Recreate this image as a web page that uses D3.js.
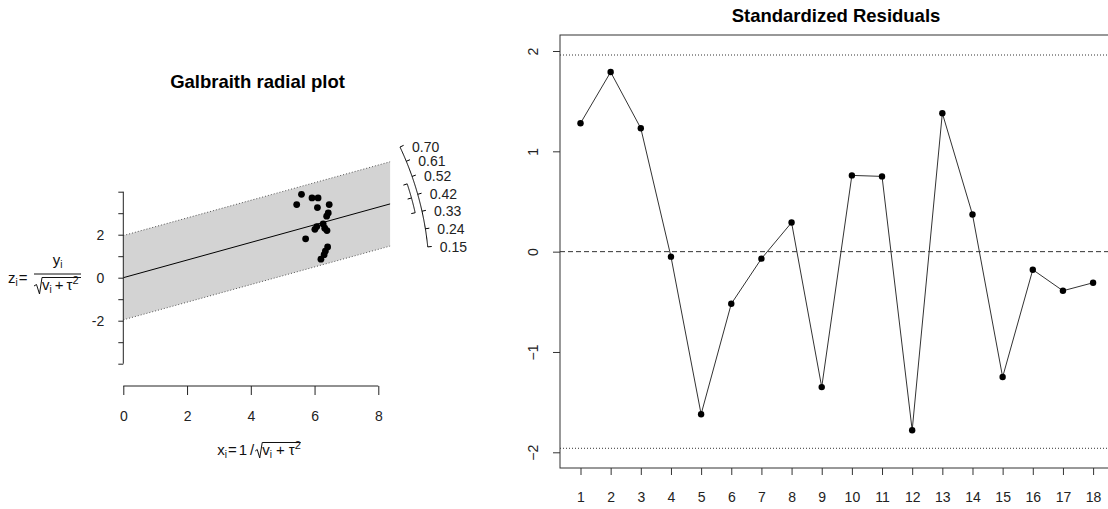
<!DOCTYPE html>
<meta charset="utf-8">
<script src="https://d3js.org/d3.v7.min.js"></script>
<style>
  body { margin: 0; background: #fff; }
  svg { font-family: "Liberation Sans", Arial, sans-serif; display: block; }
</style>
<div id="chart"></div>
<script>
// ---- data: Galbraith radial plot ----
// x_i = 1/sqrt(v_i + tau^2), z_i = y_i/sqrt(v_i + tau^2)
var radialX = [5.59, 5.92, 6.11, 5.44, 6.09, 6.46, 6.43, 6.38, 6.01, 6.07, 6.27, 6.32, 6.39, 5.72, 6.41, 6.34, 6.30, 6.20];
var radialZ = [3.88, 3.71, 3.71, 3.40, 3.26, 3.40, 3.01, 2.86, 2.25, 2.38, 2.50, 2.30, 2.19, 1.81, 1.43, 1.24, 1.07, 0.86];
var estimate = 0.41, ciLower = 0.33, ciUpper = 0.49;
var arcTicks = [0.15, 0.24, 0.33, 0.42, 0.52, 0.61, 0.70];
var zTicks = [-4, -3, -2, -1, 0, 1, 2, 3, 4];
var zLabels = [-2, 0, 2];
var xTicks = [0, 2, 4, 6, 8];
var xBandMax = 8.37;

// ---- data: standardized residuals ----
var studies = [1, 2, 3, 4, 5, 6, 7, 8, 9, 10, 11, 12, 13, 14, 15, 16, 17, 18];
var residuals = [1.28, 1.79, 1.23, -0.05, -1.62, -0.52, -0.07, 0.29, -1.35, 0.76, 0.75, -1.78, 1.38, 0.37, -1.25, -0.18, -0.39, -0.31];
var resTicks = [-2, -1, 0, 1, 2];
var critVal = 1.96;

var W = 1108, H = 509;
var svg = d3.select("#chart").append("svg").attr("width", W).attr("height", H);

// lay out a run of text pieces left to right, returns end x
function run(g, x, y, pieces) {
  pieces.forEach(function(p) {
    x += p.pre || 0;
    var t = g.append("text").attr("x", x).attr("y", y + (p.dy || 0))
      .attr("font-size", p.size || 15).attr("fill", "#111").text(p.t);
    x += t.node().getComputedTextLength();
    x += p.post || 0;
  });
  return x;
}

// ================= left panel =================
var xL = d3.scaleLinear().domain([0, 8]).range([123.3, 378.3]);
var zL = d3.scaleLinear().domain([-4, 4]).range([363.7, 191.7]);
var left = svg.append("g");

left.append("text").attr("x", 257.5).attr("y", 88).attr("text-anchor", "middle")
  .attr("font-size", 18.5).attr("font-weight", "bold").text("Galbraith radial plot");

// confidence band
var band = [[0, critVal], [xBandMax, estimate * xBandMax + critVal],
            [xBandMax, estimate * xBandMax - critVal], [0, -critVal]];
left.append("path")
  .attr("d", d3.line().x(function(d) { return xL(d[0]); }).y(function(d) { return zL(d[1]); })(band) + "Z")
  .attr("fill", "#d3d3d3").attr("stroke", "none");
[critVal, -critVal].forEach(function(c) {
  left.append("line")
    .attr("x1", xL(0)).attr("y1", zL(c))
    .attr("x2", xL(xBandMax)).attr("y2", zL(estimate * xBandMax + c))
    .attr("stroke", "#555").attr("stroke-dasharray", "1,2");
});
left.append("line")
  .attr("x1", xL(0)).attr("y1", zL(0))
  .attr("x2", xL(xBandMax)).attr("y2", zL(estimate * xBandMax))
  .attr("stroke", "#000");

// axes
var yAx = left.append("g").attr("transform", "translate(" + xL(0) + ",0)")
  .call(d3.axisLeft(zL).tickValues(zTicks).tickSize(5)
    .tickFormat(function(d) { return zLabels.indexOf(d) >= 0 ? d : ""; }));
var xAx = left.append("g").attr("transform", "translate(0,386)")
  .call(d3.axisBottom(xL).tickValues(xTicks).tickSize(9));
[yAx, xAx].forEach(function(a) {
  a.select(".domain").attr("stroke", "#222");
  a.selectAll(".tick line").attr("stroke", "#222");
  a.selectAll("text").attr("font-size", 14).attr("fill", "#222").attr("font-family", null);
});
yAx.select(".domain").attr("d", "M-0,191.7H0V363.7H-0");
yAx.selectAll("text").attr("x", -19);
xAx.select(".domain").attr("d", "M123.3,0H378.3");
xAx.selectAll("text").attr("y", 25);

// points
left.append("g").selectAll("circle").data(radialX).join("circle")
  .attr("cx", function(d) { return xL(d); })
  .attr("cy", function(d, i) { return zL(radialZ[i]); })
  .attr("r", 3.4).attr("fill", "#000");

// radial arc scale
var ox = xL(0), oy = zL(0);
var ux = xL(1) - xL(0), uz = zL(0) - zL(1);
function arcPt(v, r) {
  var dx = ux, dy = uz * v, len = Math.sqrt(dx * dx + dy * dy);
  return [ox + r * dx / len, oy - r * dy / len];
}
var R1 = 306, R2 = 299;
var arcVals = d3.range(0, 101).map(function(i) { return arcTicks[0] + (arcTicks[arcTicks.length - 1] - arcTicks[0]) * i / 100; });
left.append("path").attr("d", d3.line()(arcVals.map(function(v) { return arcPt(v, R1); })))
  .attr("fill", "none").attr("stroke", "#000");
arcTicks.forEach(function(v) {
  var a = arcPt(v, R1), b = arcPt(v, R1 + 4);
  left.append("line").attr("x1", a[0]).attr("y1", a[1]).attr("x2", b[0]).attr("y2", b[1]).attr("stroke", "#000");
  left.append("text").attr("x", a[0] + 12).attr("y", a[1]).attr("dy", "0.35em")
    .attr("font-size", 14).attr("fill", "#222").text(v.toFixed(2));
});
var ciVals = d3.range(0, 51).map(function(i) { return ciLower + (ciUpper - ciLower) * i / 50; });
left.append("path").attr("d", d3.line()(ciVals.map(function(v) { return arcPt(v, R2); })))
  .attr("fill", "none").attr("stroke", "#000");
[ciLower, estimate, ciUpper].forEach(function(v) {
  var a = arcPt(v, R2), b = arcPt(v, R2 - 4);
  left.append("line").attr("x1", a[0]).attr("y1", a[1]).attr("x2", b[0]).attr("y2", b[1]).attr("stroke", "#000");
});

// y axis label: z_i = y_i / sqrt(v_i + tau^2)
var yl = left.append("g");
run(yl, 8, 283, [{ t: "z" }, { t: "i", size: 10, dy: 3 }, { t: "=", pre: 1 }]);
yl.append("line").attr("x1", 34).attr("x2", 81).attr("y1", 274).attr("y2", 274).attr("stroke", "#111");
var num = yl.append("g");
var numEnd = run(num, 0, 265, [{ t: "y" }, { t: "i", size: 10, dy: 3 }]);
num.attr("transform", "translate(" + (57.5 - numEnd / 2) + ",0)");
var denEnd = run(yl, 42, 290, [{ t: "v" }, { t: "i", size: 10, dy: 3 }, { t: "+", size: 15, pre: 3, post: 3 }, { t: "τ" }, { t: "2", size: 11, dy: -6 }]);
yl.append("path").attr("d", "M34,286 L36.5,284.5 L39.5,294 L42,277.5 H" + Math.max(denEnd, 81))
  .attr("fill", "none").attr("stroke", "#111");

// x axis label: x_i = 1 / sqrt(v_i + tau^2)
var xl = left.append("g");
var xs = run(xl, 0, 455, [{ t: "x" }, { t: "i", size: 10, dy: 3 }, { t: "=", pre: 1, post: 2 }, { t: "1", post: 3 }, { t: "/" }]);
var xe = run(xl, xs + 8, 455, [{ t: "v" }, { t: "i", size: 10, dy: 3 }, { t: "+", pre: 4, post: 4 }, { t: "τ" }, { t: "2", size: 11, dy: -6 }]);
xl.append("path").attr("d", "M" + (xs + 1) + ",451 L" + (xs + 3) + ",449.5 L" + (xs + 5.5) + ",458 L" + (xs + 8) + ",442.5 H" + xe)
  .attr("fill", "none").attr("stroke", "#111");
xl.attr("transform", "translate(" + (259 - xe / 2) + ",0)");

// ================= right panel =================
var xR = d3.scaleLinear().domain([0.32, 18.68]).range([560, 1113.6]);
var yR = d3.scaleLinear().domain([-2, 2]).range([452.3, 51]);
var right = svg.append("g");

right.append("text").attr("x", 836).attr("y", 22).attr("text-anchor", "middle")
  .attr("font-size", 18.5).attr("font-weight", "bold").text("Standardized Residuals");

right.append("rect").attr("x", 560).attr("y", 35).attr("width", 560).attr("height", 433)
  .attr("fill", "none").attr("stroke", "#333");

[critVal, -critVal].forEach(function(c) {
  right.append("line").attr("x1", 560).attr("x2", 1108).attr("y1", yR(c)).attr("y2", yR(c))
    .attr("stroke", "#333").attr("stroke-dasharray", "1,2");
});
right.append("line").attr("x1", 560).attr("x2", 1108).attr("y1", yR(0)).attr("y2", yR(0))
  .attr("stroke", "#333").attr("stroke-dasharray", "5,3");

var ryAx = right.append("g").attr("transform", "translate(560,0)")
  .call(d3.axisLeft(yR).tickValues(resTicks).tickSize(7).tickFormat(d3.format("d")));
ryAx.selectAll("text").attr("transform", "rotate(-90)")
  .attr("x", 0).attr("y", -27).attr("dy", "0.35em")
  .attr("text-anchor", "middle");
var rxAx = right.append("g").attr("transform", "translate(0,468)")
  .call(d3.axisBottom(xR).tickValues(studies).tickSize(7).tickFormat(d3.format("d")));
rxAx.selectAll("text").attr("y", 24);
[ryAx, rxAx].forEach(function(a) {
  a.select(".domain").remove();
  a.selectAll(".tick line").attr("stroke", "#333");
  a.selectAll("text").attr("font-size", 14).attr("fill", "#222").attr("font-family", null);
});

right.append("path")
  .attr("d", d3.line().x(function(d) { return xR(d); }).y(function(d, i) { return yR(residuals[i]); })(studies))
  .attr("fill", "none").attr("stroke", "#333");
right.append("g").selectAll("circle").data(studies).join("circle")
  .attr("cx", function(d) { return xR(d); })
  .attr("cy", function(d, i) { return yR(residuals[i]); })
  .attr("r", 3.2).attr("fill", "#000");
</script>
